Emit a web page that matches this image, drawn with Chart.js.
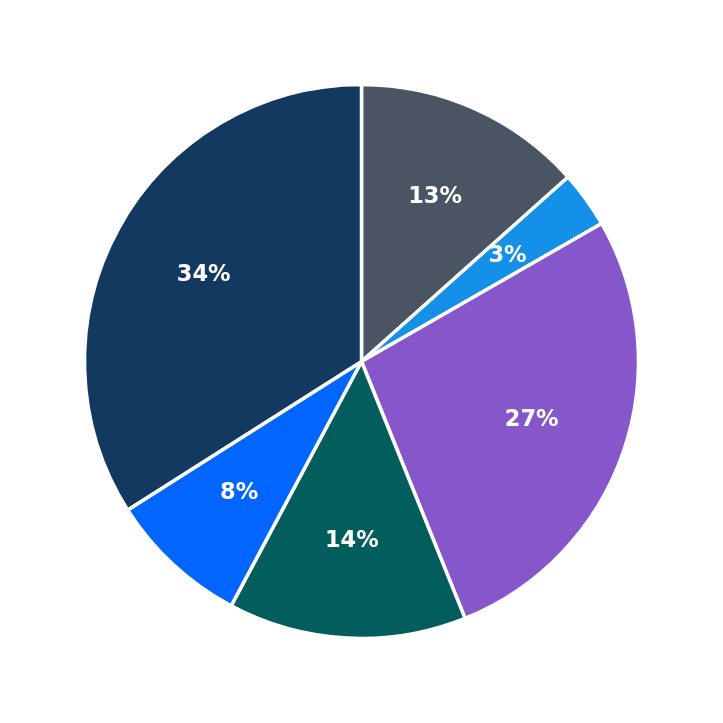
<!DOCTYPE html>
<html>
<head>
<meta charset="utf-8">
<script src="https://cdn.jsdelivr.net/npm/chart.js@4"></script>
<style>
  html, body { margin: 0; padding: 0; background: #fff; }
  #wrap { width: 723px; height: 723px; }
</style>
</head>
<body>
<div id="wrap"><canvas id="pie"></canvas></div>
<script>
// values (percent of total)
const categories = ['A', 'B', 'C', 'D', 'E', 'F'];
const shares = [13.4, 3.3, 27.2, 13.9, 8.2, 34.0];
const sliceColors = ['#4a5462', '#1490e8', '#8657cb', '#025e5c', '#0066ff', '#143961'];

// draw the percentage inside each slice
const sliceLabels = {
    id: 'sliceLabels',
    afterDatasetsDraw(chart) {
        const ctx = chart.ctx;
        const meta = chart.getDatasetMeta(0);
        const total = shares.reduce((a, b) => a + b, 0);
        ctx.save();
        ctx.fillStyle = '#ffffff';
        ctx.font = 'bold 22.5px "DejaVu Sans", sans-serif';
        ctx.textAlign = 'center';
        ctx.textBaseline = 'middle';
        meta.data.forEach((arc, i) => {
            const mid = (arc.startAngle + arc.endAngle) / 2;
            const r = arc.outerRadius * 0.65;
            const x = arc.x + Math.cos(mid) * r;
            const y = arc.y + Math.sin(mid) * r;
            ctx.fillText(Math.round(shares[i] / total * 100) + '%', x, y);
        });
        ctx.restore();
    }
};

new Chart(document.getElementById('pie'), {
    type: 'pie',
    data: {
        labels: categories,
        datasets: [{
            data: shares,
            backgroundColor: sliceColors,
            borderColor: '#ffffff',
            borderWidth: 3.5
        }]
    },
    options: {
        responsive: true,
        maintainAspectRatio: false,
        animation: false,
        radius: 277,
        plugins: {
            legend: { display: false },
            tooltip: { enabled: false }
        }
    },
    plugins: [sliceLabels]
});
</script>
</body>
</html>
